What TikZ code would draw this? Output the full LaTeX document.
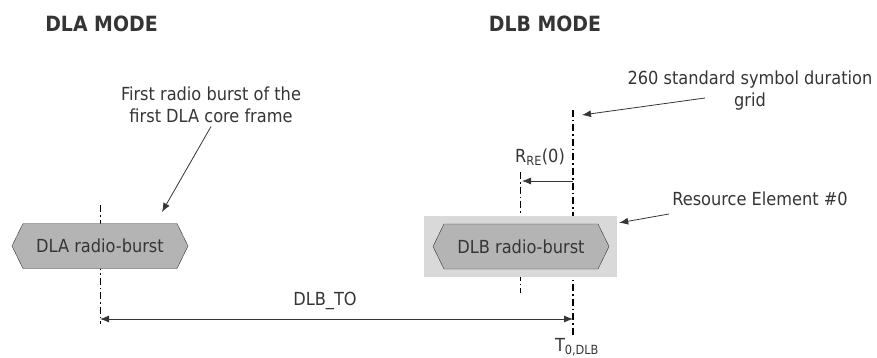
\documentclass[tikz,border=0pt]{standalone}
\usepackage{fontspec}
\setmainfont{DejaVu Sans Condensed}
\usepackage{tikz}
\usetikzlibrary{shapes.symbols,arrows.meta}
\usetikzlibrary{calc,backgrounds,positioning}
\definecolor{ink}{HTML}{353535}
\definecolor{burstgray}{HTML}{B4B4B4}
\definecolor{boxgray}{HTML}{D9D9D9}
\tikzstyle{diag}=[
  x=1pt,y=-1pt,>={Latex[length=9pt,width=7pt]},font=\fontsize{18}{22}\selectfont,color=ink
]
\tikzstyle{modetitle}=[
  font=\fontsize{21}{25}\selectfont\bfseries
]
\tikzstyle{burst}=[
  draw=ink,fill=burstgray,shape=signal,signal to=west and east,signal pointer angle=128,
  minimum width=176pt,minimum height=45pt,inner sep=0pt
]
\tikzstyle{rebox}=[
  fill=boxgray,minimum width=193pt,minimum height=61pt,inner sep=0pt
]
\tikzstyle{gridline}=[
  dash pattern=on 7pt off 3pt on 1.5pt off 3pt,line width=0.7pt
]
\tikzstyle{gridthick}=[
  gridline,line width=1.6pt
]
\tikzstyle{note}=[
  ->,line width=0.8pt
]

\begin{document}
\begin{tikzpicture}[diag]
    \useasboundingbox (0,0) rectangle (877,358);
      \node (dlamode) at (101.5,24) [modetitle] {DLA MODE};
      \node (dlbmode) at (545,24) [modetitle] {DLB MODE};
      \node (dlaburst) at (100,246) [burst] {DLA radio-burst};
      \node (resel) at (520.5,246.5) [rebox] {};
      \node (dlbburst) at (521,246.5) [burst] {DLB radio-burst};
      % grid lines
      \coordinate (dlatop) at (100,205);
      \coordinate (dlabot) at (100,324);
      \coordinate (retop) at (520,172);
      \coordinate (rebot) at (520,293);
      \coordinate (gridtop) at (573,110);
      \coordinate (gridbot) at (573,336);
    \begin{scope}[on background layer]
      \draw [gridline] (dlatop) -- (dlabot);
      \draw [gridline] (retop) -- (rebot);
      \draw [gridthick] (gridtop) -- (gridbot);
    \end{scope}
      % annotations
      \node (firsttext) at (211,105) [align=center] {First radio burst of the\\first DLA core frame};
      \coordinate (firsttip) at (162,212);
      \draw [note] (firsttext.south) -- (firsttip);
      \node (gridtext) at (750,91) [align=center] {260 standard symbol duration\\grid};
      \coordinate (gridfrom) at (705,98);
      \coordinate (gridtip) at (582,115);
      \draw [note] (gridfrom) -- (gridtip);
      \node (retext) at (760,199) {Resource Element \#0};
      \coordinate (refrom) at (669,214);
      \coordinate (retip) at ($(resel.north east)+(2,7)$);
      \draw [note] (refrom) -- (retip);
      \node (rre) at (540,157) {R\textsubscript{RE}(0)};
      \coordinate (rrefrom) at (573,181);
      \coordinate (rretip) at (522,181);
      \draw [note] (rrefrom) -- (rretip);
      \node (dlbto) at (325,301) {DLB\_TO};
      \coordinate (toleft) at (100,319);
      \coordinate (toright) at (573,319);
      \draw [<->,line width=0.8pt] (toleft) -- (toright);
      \node (tzero) at (577,347) {T\textsubscript{0,DLB}};
    \end{tikzpicture}
\end{document}
